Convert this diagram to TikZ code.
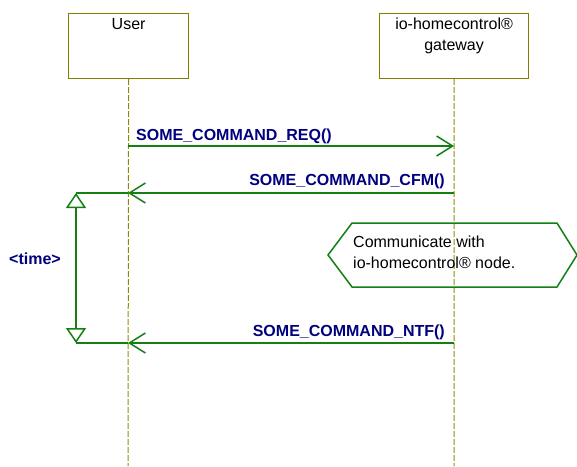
\documentclass[tikz,border=0pt]{standalone}
\usepackage{fontspec}
\setmainfont{Liberation Sans}
\usetikzlibrary{arrows.meta, positioning}
\definecolor{msgnavy}{RGB}{0,0,128}
\definecolor{boxolive}{RGB}{128,128,0}
\definecolor{msggreen}{RGB}{20,128,20}
\tikzset{
	x=1pt, y=-1pt, % pixel-like grid, y runs downwards
	every node/.style={font=\fontsize{16}{21}\selectfont, inner sep=0pt},
	actor/.style={draw=boxolive, line width=1.2pt, anchor=north west}, % the boxes on top
	lifeline/.style={draw=boxolive!90!yellow, line width=1pt, dash pattern=on 6pt off 2pt},
	msg/.style={draw=msggreen, line width=1.5pt, -{Straight Barb[length=16pt, width=20pt, line width=1.5pt]}},
	msgtext/.style={text=msgnavy, font=\fontsize{16}{21}\selectfont\bfseries},
	timebar/.style={draw=msggreen, line width=1.5pt},
}

\begin{document}
\begin{tikzpicture}
	\useasboundingbox (0,0) rectangle (577,466);
	% actors
	\node[actor, minimum width=120pt, minimum height=65pt,
		label={[anchor=north, yshift=-5pt]north:User}] (user) at (68,13) {};
	\node[actor, minimum width=149pt, minimum height=65pt,
		label={[anchor=north, yshift=-5pt, align=center]north:io-homecontrol®\\gateway}] (gw) at (379,13) {};
	\coordinate (userend) at (128,466);
	\coordinate (gwend) at (454,466);
	\draw[lifeline] (user.south) -- (userend);
	\draw[lifeline] (gw.south) -- (gwend);

	% points on the lifelines
	\coordinate (u1) at (128,146);
	\coordinate (g1) at (454,146);
	\coordinate (u2) at (128,193);
	\coordinate (g2) at (454,193);
	\coordinate (u3) at (128,343);
	\coordinate (g3) at (454,343);

	% messages
	\draw[msg] (u1) -- (g1);
	\node[msgtext, anchor=base west] (req) at (136,140) {SOME\_COMMAND\_REQ()};
	\draw[msg] (g2) -- (u2);
	\node[msgtext, anchor=base east] (cfm) at (445,185) {SOME\_COMMAND\_CFM()};
	\draw[msg] (g3) -- (u3);
	\node[msgtext, anchor=base east] (ntf) at (445,336) {SOME\_COMMAND\_NTF()};

	% time constraint
	\coordinate (ttop) at (76,193);
	\coordinate (tbot) at (76,343);
	\draw[timebar] (u2) -- (ttop);
	\draw[timebar] (u3) -- (tbot);
	\draw[timebar, {Triangle[open, length=15pt, width=20pt, line width=1.5pt]}-{Triangle[open, length=15pt, width=20pt, line width=1.5pt]}] (ttop) -- (tbot);
	\node[msgtext, anchor=base west] (time) at (9,264) {<time>};

	% action on the gateway
	\draw[msggreen, line width=1.5pt] (328,255) -- (352,223) -- (557,223) -- (577,255) -- (557,287) -- (352,287) -- cycle;
	\node[anchor=north west, align=left] (comm) at (353,236) {Communicate with\\io-homecontrol® node.};
\end{tikzpicture}
\end{document}
